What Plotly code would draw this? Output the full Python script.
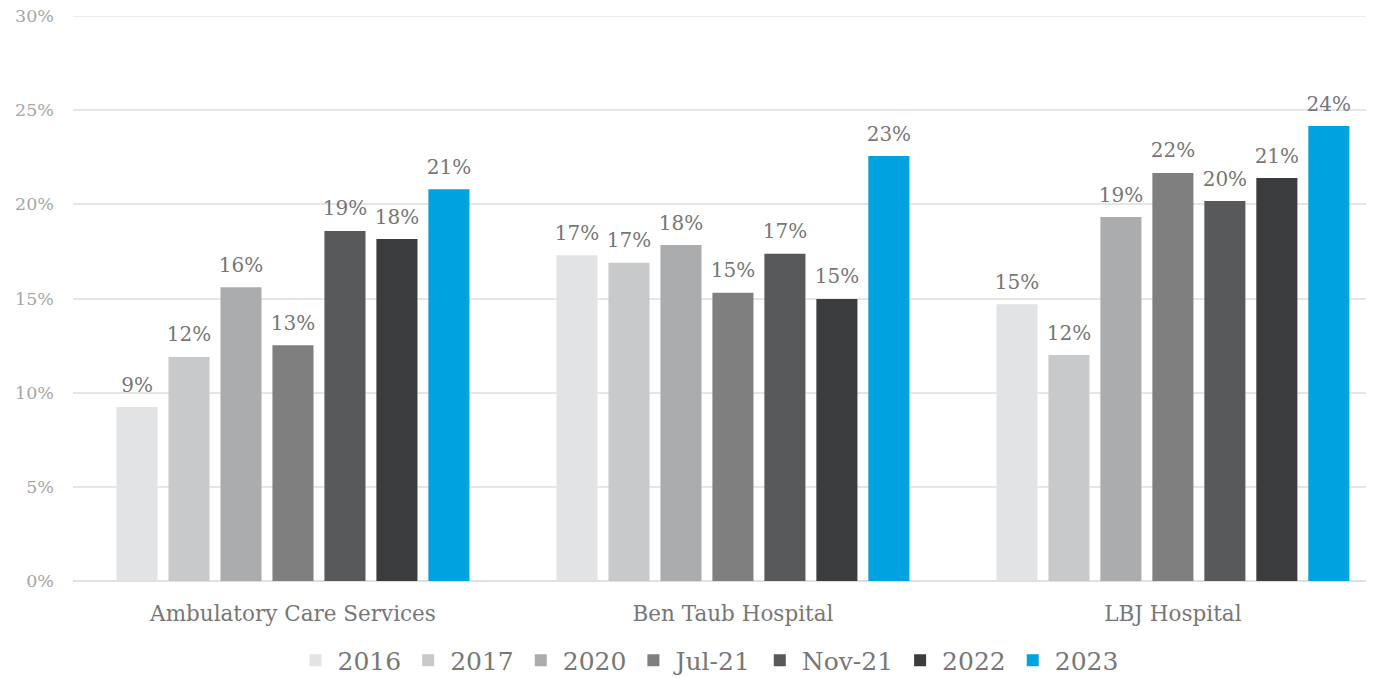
import plotly.graph_objects as go

categories = ["Ambulatory Care Services", "Ben Taub Hospital", "LBJ Hospital"]
series_names = ["2016", "2017", "2020", "Jul-21", "Nov-21", "2022", "2023"]
v2016 = [9.24, 17.3, 14.7]
v2017 = [11.9, 16.9, 12.0]
v2020 = [15.6, 17.84, 19.33]
vjul21 = [12.52, 15.3, 21.67]
vnov21 = [18.59, 17.37, 20.18]
v2022 = [18.16, 14.98, 21.4]
v2023 = [20.8, 22.57, 24.16]
series_values = [v2016, v2017, v2020, vjul21, vnov21, v2022, v2023]
colors = ["#e2e3e5", "#c8c9ca", "#abacae", "#7f7f7f", "#58595b", "#3b3c3e", "#00a2e0"]
y_ticks = [0, 5, 10, 15, 20, 25, 30]
y_tick_labels = [f"{t}%" for t in y_ticks]

FONT = "DejaVu Serif"


def label(v):
    return (f"<span style='font-size:20px'>{round(v)}%</span><br>"
            "<span style='color:rgba(255,255,255,0)'>.</span>")


fig = go.Figure()
for name, vals, col in zip(series_names, series_values, colors):
    fig.add_trace(go.Bar(
        name=name, x=categories, y=vals, marker_color=col,
        marker_line_width=0,
        text=[label(v) for v in vals], textposition="outside",
        textfont=dict(family=FONT, size=8, color="#777777"),
        constraintext="none",
        cliponaxis=False,
    ))

fig.add_hline(y=30, line_color="#e6e6e6", line_width=1.5, layer="below")

fig.update_layout(
    barmode="group", bargap=0.173, bargroupgap=0.21,
    width=1374, height=678,
    margin=dict(l=65, r=12, t=8, b=105, autoexpand=False),
    plot_bgcolor="white", paper_bgcolor="white",
    font=dict(family=FONT, color="#777777"),
    legend=dict(orientation="h", x=0.49, xanchor="center", y=-0.1, yanchor="top",
                font=dict(family=FONT, size=25, color="#777777"),
                traceorder="normal", itemwidth=34),
)
fig.update_yaxes(range=[0, 30], tickvals=y_ticks, ticktext=y_tick_labels,
                 gridcolor="#e6e6e6", gridwidth=1.5, zeroline=True, zerolinecolor="#e0e0e0",
                 zerolinewidth=2, tickfont=dict(family=FONT, size=17.5, color="#a6a6a6"),
                 ticklen=0, ticks="", showline=False, automargin=False, ticklabelstandoff=18,
                 ticklabeloverflow="allow")
fig.update_xaxes(range=[-0.5, 2.448], tickfont=dict(family=FONT, size=21.5, color="#777777"),
                 showline=False, ticks="", ticklabelstandoff=17, automargin=False)

fig.write_html("out.html")
